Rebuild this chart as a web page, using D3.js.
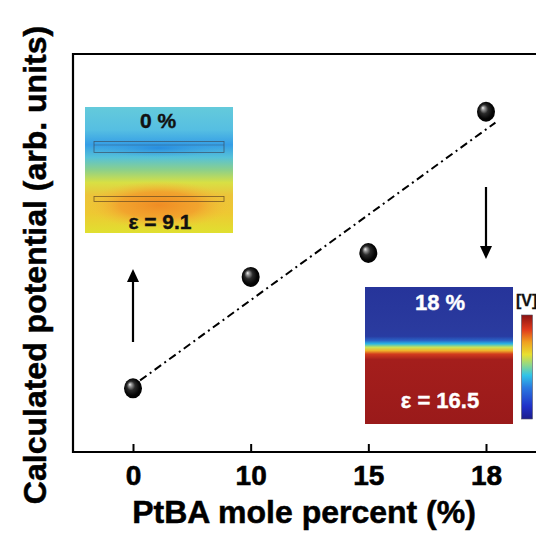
<!DOCTYPE html>
<html>
<head>
<meta charset="utf-8">
<script src="https://cdn.jsdelivr.net/npm/d3@7"></script>
<style>
  html, body { margin: 0; padding: 0; background: #fff; }
  svg { display: block; font-family: "Liberation Sans", Arial, sans-serif; }
</style>
</head>
<body>
<svg id="chart" width="536" height="533"></svg>
<script>
// PtBA content (mole %) and calculated surface potential (arbitrary units)
const categories = ["0", "10", "15", "18"];
const potential = [1.6, 4.4, 5.0, 8.55];
const tickLabels = ["0", "10", "15", "18"];
const xTitle = "PtBA mole percent (%)";
const yTitle = "Calculated potential (arb. units)";
const insetLow = { pct: "0 %", eps: "\u03b5 = 9.1" };
const insetHigh = { pct: "18 %", eps: "\u03b5 = 16.5" };
const unitLabel = "[V]";

const svg = d3.select("#chart");
const frame = { left: 73, top: 54, bottom: 452, right: 537 };

const x = d3.scalePoint().domain(categories).range([133, 486]);
const y = d3.scaleLinear().domain([0, 10]).range([frame.bottom, frame.top]);
const xAt = i => x(categories[0]) + i * x.step();

const defs = svg.append("defs");

// ---- sphere shading for markers
const sph = defs.append("radialGradient").attr("id", "sphere")
  .attr("cx", "50%").attr("cy", "50%").attr("r", "60%")
  .attr("fx", "32%").attr("fy", "30%");
[["0%", "#f4f4f4"], ["14%", "#9a9a9a"], ["38%", "#2a2a2a"], ["70%", "#050505"], ["100%", "#000"]]
  .forEach(([o, c]) => sph.append("stop").attr("offset", o).attr("stop-color", c));

// ---- field map, low permittivity film
const g1 = defs.append("linearGradient").attr("id", "fieldLow").attr("x1", 0).attr("y1", 0).attr("x2", 0).attr("y2", 1);
[["0%", "#64cadb"], ["18%", "#56bfe2"], ["30%", "#359ee6"], ["40%", "#56c2d8"], ["50%", "#8cd08a"],
 ["60%", "#d8e044"], ["70%", "#ecc43a"], ["84%", "#eec832"], ["100%", "#e0e030"]]
  .forEach(([o, c]) => g1.append("stop").attr("offset", o).attr("stop-color", c));
const r1 = defs.append("radialGradient").attr("id", "blobLow").attr("cx", "50%").attr("cy", "50%").attr("r", "50%");
[["0%", "#f08c24", 1], ["55%", "#f29e2c", 0.85], ["100%", "#f2c03a", 0]]
  .forEach(([o, c, a]) => r1.append("stop").attr("offset", o).attr("stop-color", c).attr("stop-opacity", a));
const r1b = defs.append("radialGradient").attr("id", "bandLow").attr("cx", "50%").attr("cy", "50%").attr("r", "50%");
[["0%", "#2488de", 0.85], ["100%", "#3aa2e4", 0]]
  .forEach(([o, c, a]) => r1b.append("stop").attr("offset", o).attr("stop-color", c).attr("stop-opacity", a));

// ---- field map, high permittivity film
const g2 = defs.append("linearGradient").attr("id", "fieldHigh").attr("x1", 0).attr("y1", 0).attr("x2", 0).attr("y2", 1);
[["0%", "#26349a"], ["30%", "#2a3a9e"], ["36%", "#283ca2"], ["39%", "#2a62c6"], ["41.5%", "#2ab6e4"],
 ["44%", "#c8e45a"], ["46.5%", "#f0b22a"], ["49%", "#d23a1e"], ["53%", "#a41e1c"], ["100%", "#9a1a1a"]]
  .forEach(([o, c]) => g2.append("stop").attr("offset", o).attr("stop-color", c));

// ---- jet colour bar
const jet = defs.append("linearGradient").attr("id", "jet").attr("x1", 0).attr("y1", 1).attr("x2", 0).attr("y2", 0);
[["0%", "#1c1c8c"], ["12%", "#2030c8"], ["30%", "#2a78e0"], ["42%", "#30c4e8"], ["52%", "#8ed88a"],
 ["62%", "#e8e030"], ["74%", "#f0a020"], ["86%", "#e03a1c"], ["100%", "#8a1212"]]
  .forEach(([o, c]) => jet.append("stop").attr("offset", o).attr("stop-color", c));

// ---- frame
svg.append("path")
  .attr("d", `M${frame.right},${frame.top}H${frame.left}V${frame.bottom}H${frame.right}`)
  .attr("fill", "none").attr("stroke", "#000").attr("stroke-width", 2.2);

// ---- x axis (ticks point inward)
const xAxis = svg.append("g")
  .attr("transform", `translate(0,${frame.bottom})`)
  .call(d3.axisBottom(x).tickSizeInner(-8).tickSizeOuter(0).tickPadding(13)
    .tickFormat((d, i) => tickLabels[i]));
xAxis.select(".domain").remove();
xAxis.selectAll(".tick line").attr("stroke", "#000").attr("stroke-width", 2);
xAxis.selectAll(".tick text")
  .attr("font-family", "'Liberation Sans', Arial, sans-serif")
  .attr("font-size", 28).attr("font-weight", "bold").attr("fill", "#000")
  .attr("stroke", "#000").attr("stroke-width", 0.6);

// ---- axis titles
svg.append("text")
  .attr("x", 304).attr("y", 523).attr("text-anchor", "middle")
  .attr("font-size", 32).attr("font-weight", "bold").attr("fill", "#000")
  .attr("stroke", "#000").attr("stroke-width", 0.5)
  .text(xTitle);
svg.append("text")
  .attr("transform", "translate(46,265) rotate(-90)").attr("text-anchor", "middle")
  .attr("font-size", 32).attr("font-weight", "bold").attr("fill", "#000")
  .attr("stroke", "#000").attr("stroke-width", 0.5)
  .text(yTitle);

// ---- inset: 0 % field map
const inL = { x: 85, y: 107, w: 148, h: 126 };
const gL = svg.append("g").attr("transform", `translate(${inL.x},${inL.y})`);
gL.append("rect").attr("width", inL.w).attr("height", inL.h).attr("fill", "url(#fieldLow)");
gL.append("ellipse").attr("cx", inL.w / 2).attr("cy", 41).attr("rx", 66).attr("ry", 9).attr("fill", "url(#bandLow)");
gL.append("ellipse").attr("cx", inL.w / 2).attr("cy", 98).attr("rx", 72).attr("ry", 24).attr("fill", "url(#blobLow)");
gL.append("rect").attr("x", 9).attr("y", 34.5).attr("width", 130).attr("height", 11)
  .attr("fill", "none").attr("stroke", "#3a4a5a").attr("stroke-width", 0.8).attr("opacity", 0.8);
gL.append("line").attr("x1", 9).attr("x2", 139).attr("y1", 38).attr("y2", 38)
  .attr("stroke", "#3a4a5a").attr("stroke-width", 0.6).attr("opacity", 0.6);
gL.append("rect").attr("x", 9).attr("y", 89.5).attr("width", 130).attr("height", 5)
  .attr("fill", "none").attr("stroke", "#5a4020").attr("stroke-width", 0.8).attr("opacity", 0.8);
gL.append("text").attr("x", 73).attr("y", 21).attr("text-anchor", "middle")
  .attr("font-size", 21).attr("font-weight", "bold").attr("fill", "#111")
  .attr("stroke", "#111").attr("stroke-width", 0.4).text(insetLow.pct);
gL.append("text").attr("x", 75).attr("y", 122).attr("text-anchor", "middle")
  .attr("font-size", 21).attr("font-weight", "bold").attr("fill", "#111")
  .attr("stroke", "#111").attr("stroke-width", 0.4).text(insetLow.eps);

// ---- inset: 18 % field map
const inH = { x: 365, y: 287, w: 148, h: 137 };
const gH = svg.append("g").attr("transform", `translate(${inH.x},${inH.y})`);
gH.append("rect").attr("width", inH.w).attr("height", inH.h).attr("fill", "url(#fieldHigh)");
gH.append("text").attr("x", 75).attr("y", 23).attr("text-anchor", "middle")
  .attr("font-size", 22).attr("font-weight", "bold").attr("fill", "#fff")
  .attr("stroke", "#fff").attr("stroke-width", 0.4).text(insetHigh.pct);
gH.append("text").attr("x", 75).attr("y", 121).attr("text-anchor", "middle")
  .attr("font-size", 22).attr("font-weight", "bold").attr("fill", "#fff")
  .attr("stroke", "#fff").attr("stroke-width", 0.4).text(insetHigh.eps);

// ---- colour bar
svg.append("rect").attr("x", 521.5).attr("y", 315).attr("width", 11).attr("height", 104)
  .attr("fill", "url(#jet)").attr("stroke", "#556").attr("stroke-width", 0.6);
svg.append("text").attr("x", 516).attr("y", 306)
  .attr("font-size", 16).attr("font-weight", "bold").attr("fill", "#111")
  .attr("stroke", "#111").attr("stroke-width", 0.3).text(unitLabel);

// ---- arrows linking insets to points
function arrow(x0, yFrom, yTo) {
  const dir = yTo < yFrom ? 1 : -1;
  svg.append("line").attr("x1", x0).attr("x2", x0).attr("y1", yFrom).attr("y2", yTo + dir * 10)
    .attr("stroke", "#000").attr("stroke-width", 2.2);
  svg.append("path")
    .attr("d", dir > 0
      ? `M${x0 - 6},${yTo + 13}L${x0},${yTo}L${x0 + 6},${yTo + 13}Z`
      : `M${x0 - 6},${yTo - 13}L${x0},${yTo}L${x0 + 6},${yTo - 13}Z`)
    .attr("fill", "#000");
}
arrow(x(categories[0]), 342, 269);
arrow(x(categories[3]), 187, 259);

// ---- linear fit through the points (in category index space)
const idx = potential.map((_, i) => i);
const mx = d3.mean(idx), my = d3.mean(potential);
const slope = d3.sum(idx, i => (i - mx) * (potential[i] - my)) / d3.sum(idx, i => (i - mx) ** 2);
const icpt = my - slope * mx;
const fitRange = [0.06, 3.08];
svg.append("path")
  .datum(fitRange)
  .attr("d", d3.line().x(t => xAt(t)).y(t => y(icpt + slope * t)))
  .attr("fill", "none").attr("stroke", "#000").attr("stroke-width", 2)
  .attr("stroke-dasharray", "8,4,2,4");

// ---- data points
svg.append("g").selectAll("ellipse")
  .data(categories)
  .join("ellipse")
  .attr("cx", d => x(d))
  .attr("cy", (d, i) => y(potential[i]))
  .attr("rx", 9).attr("ry", 10)
  .attr("fill", "url(#sphere)");
</script>
</body>
</html>
